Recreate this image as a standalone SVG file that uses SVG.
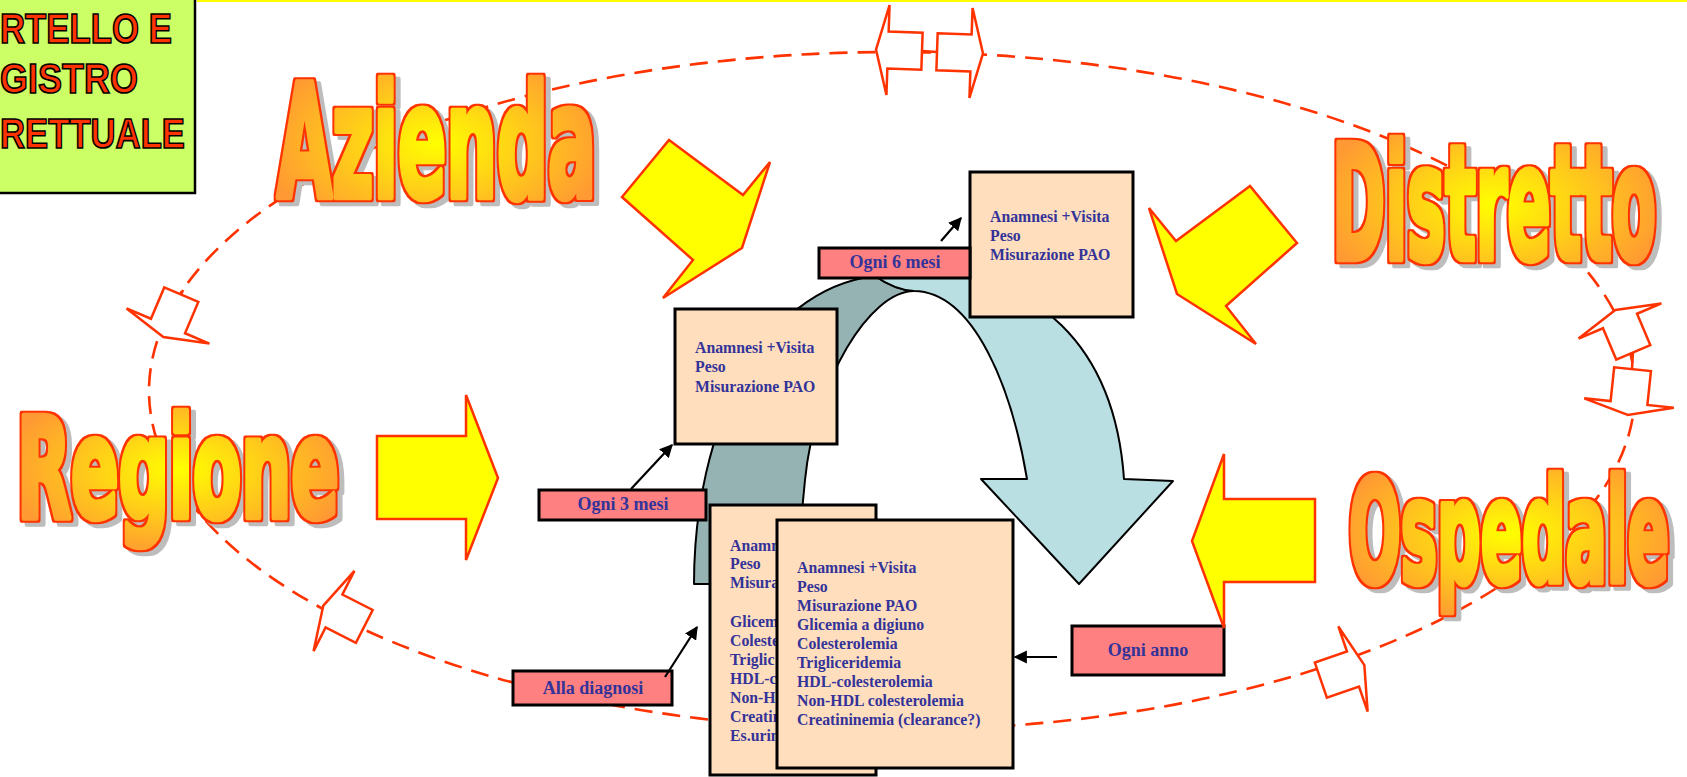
<svg xmlns="http://www.w3.org/2000/svg" width="1687" height="777" viewBox="0 0 1687 777">
<defs>
  <radialGradient id="wordFill" cx="50%" cy="50%" r="55%">
    <stop offset="0" stop-color="#FFFF00"/>
    <stop offset="1" stop-color="#FF9933"/>
  </radialGradient>
  <!-- red rim plus grey drop shadow for the level names -->
  <filter id="wordLook" x="-5%" y="-10%" width="115%" height="130%" color-interpolation-filters="sRGB">
    <feMorphology in="SourceAlpha" operator="dilate" radius="1.6" result="grown"/>
    <feFlood flood-color="#FF3300"/>
    <feComposite in2="grown" operator="in" result="rim"/>
    <feOffset in="grown" dx="5" dy="4" result="off"/>
    <feFlood flood-color="#BDBDBD"/>
    <feComposite in2="off" operator="in" result="shade"/>
    <feMerge><feMergeNode in="shade"/><feMergeNode in="rim"/><feMergeNode in="SourceGraphic"/></feMerge>
  </filter>
  <marker id="head" viewBox="0 0 10 10" refX="9" refY="5" markerWidth="6" markerHeight="6" orient="auto">
    <path d="M0,0 L10,5 L0,10 z" fill="#000"/>
  </marker>
  <!-- outline arrow sitting on the ring, pointing up, head base at origin -->
  <polygon id="ringArrow" points="0,-12 45,0 18.5,0 18.5,34 -18.5,34 -18.5,0 -45,0"/>
</defs>
<style>
  .ring { fill: none; stroke: #FF3300; stroke-width: 2.6; stroke-dasharray: 18 10; }
  .ringArrow { fill: #FFFFFF; stroke: #FF3300; stroke-width: 2.5; }
  .ringLink { stroke: #FF3300; stroke-width: 2.5; }
  .block { fill: #FFFF00; stroke: #FF3300; stroke-width: 2.5; }
  .word { font-family: "DejaVu Sans Condensed", "DejaVu Sans", sans-serif; font-weight: bold; font-size: 56px; filter: url(#wordLook); }
  .word text { fill: url(#wordFill); stroke: url(#wordFill); stroke-width: 5; stroke-linejoin: round; vector-effect: non-scaling-stroke; }
  .card rect { fill: #FFDEBD; stroke: #000; stroke-width: 3; }
  .card text, .tag text { font-family: "Liberation Serif", "Times New Roman", serif; font-weight: bold; fill: #333399; }
  .card text { font-size: 15.8px; }
  .tag rect { fill: #FF8080; stroke: #000; stroke-width: 3; }
  .tag text { font-size: 18px; text-anchor: middle; }
  .pointer { stroke: #000; stroke-width: 2.2; marker-end: url(#head); }
  .title text { font-family: "Liberation Sans", Arial, sans-serif; font-weight: bold; font-size: 43px; fill: #FF3300; stroke: #000; stroke-width: 1.7; }
</style>

<rect width="1687" height="777" fill="#FFFFFF"/>
<rect x="197" y="0" width="1490" height="2" fill="#FFFF00"/>

<!-- dashed ring -->
<g id="ring">
  <ellipse class="ring" cx="892" cy="391" rx="743" ry="339"/>
</g>

<!-- curved cycle arrow -->
<g id="cycle-arrow" stroke="#000" stroke-width="2" stroke-linejoin="round">
  <path fill="#96B3B3" d="M694,584 C694,430 760,290 875,276 C885,283 897,290 914,291 C870,291 815,380 805,480 L795,584 Z"/>
  <path fill="#B9DFE3" d="M875,276 C885,272 895,271 905,271 C1040,268 1115,350 1124,479 L1173,481 L1079,584 L981,479 L1027,479 C1012,390 975,292 914,291 C897,290 885,283 875,276 Z"/>
</g>

<!-- cards -->
<g id="card-3m" class="card">
  <rect x="675" y="309" width="162" height="135"/>
  <text x="695" y="353">Anamnesi +Visita</text>
  <text x="695" y="372">Peso</text>
  <text x="695" y="392">Misurazione PAO</text>
</g>
<g id="card-6m" class="card">
  <rect x="970" y="172" width="163" height="145"/>
  <text x="990" y="222">Anamnesi +Visita</text>
  <text x="990" y="241">Peso</text>
  <text x="990" y="260">Misurazione PAO</text>
</g>
<g id="card-diagnosi" class="card">
  <rect x="710" y="505" width="166" height="270"/>
  <text x="730" y="551">Anamn</text>
  <text x="730" y="569">Peso</text>
  <text x="730" y="588">Misura</text>
  <text x="730" y="627">Glicem</text>
  <text x="730" y="646">Coleste</text>
  <text x="730" y="665">Triglic</text>
  <text x="730" y="684">HDL-c</text>
  <text x="730" y="703">Non-H</text>
  <text x="730" y="722">Creatin</text>
  <text x="730" y="741">Es.urin</text>
</g>
<g id="card-anno" class="card">
  <rect x="777" y="520" width="236" height="248"/>
  <text x="797" y="573">Anamnesi +Visita</text>
  <text x="797" y="592">Peso</text>
  <text x="797" y="611">Misurazione PAO</text>
  <text x="797" y="630">Glicemia a digiuno</text>
  <text x="797" y="649">Colesterolemia</text>
  <text x="797" y="668">Trigliceridemia</text>
  <text x="797" y="687">HDL-colesterolemia</text>
  <text x="797" y="706">Non-HDL colesterolemia</text>
  <text x="797" y="725">Creatininemia (clearance?)</text>
</g>

<!-- timing tags -->
<g id="tag-6m" class="tag">
  <rect x="819" y="248" width="151" height="30"/>
  <text x="895" y="268">Ogni 6 mesi</text>
</g>
<g id="tag-3m" class="tag">
  <rect x="539" y="490" width="167" height="30"/>
  <text x="623" y="510">Ogni 3 mesi</text>
</g>
<g id="tag-diagnosi" class="tag">
  <rect x="513" y="671" width="159" height="34"/>
  <text x="593" y="694">Alla diagnosi</text>
</g>
<g id="tag-anno" class="tag">
  <rect x="1072" y="626" width="152" height="49"/>
  <text x="1148" y="656">Ogni anno</text>
</g>

<!-- pointers from tags to cards -->
<g id="pointers">
  <line class="pointer" x1="941" y1="241" x2="961" y2="218"/>
  <line class="pointer" x1="631" y1="489" x2="672" y2="445"/>
  <line class="pointer" x1="665" y1="677" x2="697" y2="627"/>
  <line class="pointer" x1="1057" y1="657" x2="1015" y2="657"/>
</g>

<!-- yellow block arrows -->
<g id="arrow-azienda"><polygon class="block" points="669,140 743,195 770,162 742,248 663,298 693,260 622,197"/></g>
<g id="arrow-distretto"><polygon class="block" points="1250,186 1176,241 1149,208 1177,294 1256,344 1226,306 1297,243"/></g>
<g id="arrow-regione"><polygon class="block" points="377,436 466,436 466,395 498,478 466,560 466,519 377,519"/></g>
<g id="arrow-ospedale"><polygon class="block" points="1315,499 1224,499 1224,454 1192,541 1224,628 1224,582 1315,582"/></g>

<!-- level names -->
<g id="word-azienda" class="word"><text transform="translate(277,197) scale(1,2.8)" textLength="319" lengthAdjust="spacingAndGlyphs">Azienda</text></g>
<g id="word-distretto" class="word"><text transform="translate(1332,259) scale(1,2.84)" textLength="324" lengthAdjust="spacingAndGlyphs">Distretto</text></g>
<g id="word-regione" class="word"><text transform="translate(17,517) scale(1,2.48)" textLength="322" lengthAdjust="spacingAndGlyphs">Regione</text></g>
<g id="word-ospedale" class="word"><text transform="translate(1349,582) scale(1,2.56)" textLength="320" lengthAdjust="spacingAndGlyphs">Ospedale</text></g>

<!-- outline arrows on the ring -->
<g id="ring-arrows-top">
  <line class="ringLink" x1="922" y1="51" x2="937" y2="52"/>
  <use href="#ringArrow" class="ringArrow" transform="translate(888,50) rotate(-88)"/>
  <use href="#ringArrow" class="ringArrow" transform="translate(971,53) rotate(92)"/>
</g>
<g id="ring-arrows-right">
  <line class="ringLink" x1="1633" y1="352" x2="1632" y2="369"/>
  <use href="#ringArrow" class="ringArrow" transform="translate(1620,321) rotate(-23)"/>
  <use href="#ringArrow" class="ringArrow" transform="translate(1629,403) rotate(186)"/>
</g>
<g id="ring-arrow-left">
  <line class="ringLink" x1="181" y1="295" x2="183" y2="290"/>
  <use href="#ringArrow" class="ringArrow" transform="translate(168,326) rotate(203)"/>
</g>
<g id="ring-arrow-bottom-left">
  <use href="#ringArrow" class="ringArrow" transform="translate(334,611) rotate(-63)"/>
</g>
<g id="ring-arrow-bottom-right">
  <use href="#ringArrow" class="ringArrow" transform="translate(1353,669) rotate(71)"/>
</g>

<!-- title panel -->
<g id="title" class="title">
  <rect x="-4" y="-4" width="199" height="197" fill="#CCFF66" stroke="#000" stroke-width="2.5"/>
  <text x="0" y="43" textLength="172" lengthAdjust="spacingAndGlyphs">RTELLO E</text>
  <text x="0" y="93" textLength="138" lengthAdjust="spacingAndGlyphs">GISTRO</text>
  <text x="0" y="148" textLength="185" lengthAdjust="spacingAndGlyphs">RETTUALE</text>
</g>
</svg>
